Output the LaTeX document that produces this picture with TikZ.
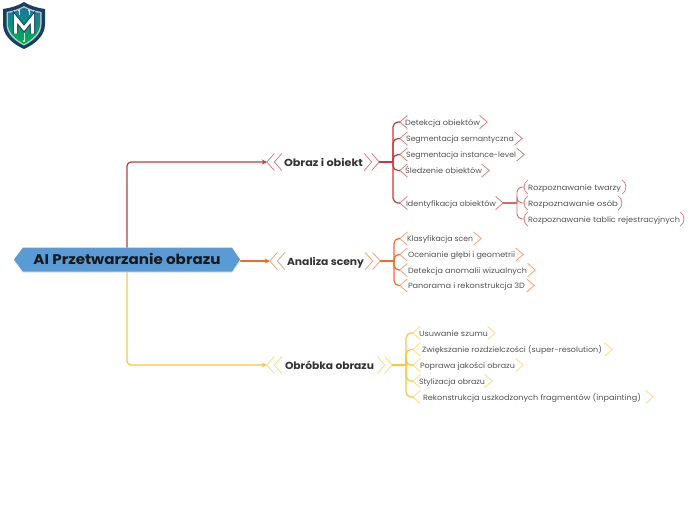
\documentclass[tikz,border=0pt]{standalone}
\usepackage{fontspec}
\usepackage{graphicx}
\setmainfont{Poppins}
\usetikzlibrary{calc,arrows.meta}
\definecolor{cred}{HTML}{C03A3E}
\definecolor{cora}{HTML}{F4692A}
\definecolor{cyel}{HTML}{F9C838}
\definecolor{lred}{HTML}{DC7F80}
\definecolor{lora}{HTML}{F6A27C}
\definecolor{lyel}{HTML}{FBDD85}
\definecolor{navy}{HTML}{173F60}
\definecolor{rootblue}{HTML}{5B9BD5}
\tikzset{
  leaftext/.style={inner sep=0pt,minimum height=12pt,text height=6.8pt,text depth=0.8pt,font=\fontsize{7.6}{9}\selectfont,text=black!68},
  headtext/.style={inner sep=0pt,minimum height=17pt,text height=10pt,text depth=1pt,font=\fontsize{10.2}{12}\bfseries\selectfont,text=black!80},
  roottext/.style={inner sep=0pt,text height=11pt,text depth=1pt,font=\fontsize{14}{16}\bfseries\selectfont,text=black!90},
  chevline/.style={line width=0.8pt,line join=miter},
  branch/.style={line width=1.2pt,rounded corners=5pt},
  stub/.style={line width=2.4pt},
  link/.style={line width=1.2pt,rounded corners=4pt,-{Stealth[length=5pt,width=5pt]}}
}
% name, xL, xR, y, textL, textR, text
\newcommand\labelbox[7]{%
  \pgfmathsetlengthmacro\boxw{(#3-#2)*1pt}%
  \pgfmathsetlengthmacro\boxa{(#5-#2)*1pt}%
  \pgfmathsetlengthmacro\boxb{(#6-#5)*1pt}%
  \makebox[\boxw][l]{\hspace*{\boxa}\resizebox{\boxb}{\height}{#7}}}
\newcommand\leaf[8]{%
  \node[leaftext] (#1) at ({(#2+#3)/2},#4) {\labelbox{#1}{#2}{#3}{#4}{#5}{#6}{#7}};
  \draw[chevline,#8] ($(#1.west)+(7.5,6.5)$) -- (#1.west) -- ($(#1.west)+(7.5,-6.5)$);
  \draw[chevline,#8] ($(#1.east)+(-7.5,6.5)$) -- (#1.east) -- ($(#1.east)+(-7.5,-6.5)$);
}
\newcommand\paren[7]{%
  \node[leaftext] (#1) at ({(#2+#3)/2},#4) {\labelbox{#1}{#2}{#3}{#4}{#5}{#6}{#7}};
  \draw[chevline,lred] ($(#1.west)+(4,7)$) .. controls ($(#1.west)+(-1,4)$) and ($(#1.west)+(-1,-4)$) .. ($(#1.west)+(4,-7)$);
  \draw[chevline,lred] ($(#1.east)+(-4,7)$) .. controls ($(#1.east)+(1,4)$) and ($(#1.east)+(1,-4)$) .. ($(#1.east)+(-4,-7)$);
}
\newcommand\topic[8]{%
  \node[headtext] (#1) at ({(#2+#3)/2},#4) {\labelbox{#1}{#2}{#3}{#4}{#5}{#6}{#7}};
  \foreach \off in {0,7.5}{
    \draw[chevline,#8] ($(#1.west)+(\off+7.5,8.5)$) -- ($(#1.west)+(\off,0)$) -- ($(#1.west)+(\off+7.5,-8.5)$);
    \draw[chevline,#8] ($(#1.east)+(-\off-7.5,8.5)$) -- ($(#1.east)+(-\off,0)$) -- ($(#1.east)+(-\off-7.5,-8.5)$);
  }
}
\begin{document}
\begin{tikzpicture}[x=1pt,y=-1pt]
\useasboundingbox (0,0) rectangle (697,520);
% logo
\fill[navy] (24,2) .. controls (18,6) and (10,8) .. (3,9) -- (3,24) .. controls (3,36) and (13,44) .. (24,49) .. controls (35,44) and (45,36) .. (45,24) -- (45,9) .. controls (38,8) and (30,6) .. (24,2) -- cycle;
\fill[white!70!navy] (24,6) .. controls (18,9.5) and (12,11) .. (6.5,12) -- (6.5,24) .. controls (6.5,34) and (15,41) .. (24,45.5) .. controls (33,41) and (41.5,34) .. (41.5,24) -- (41.5,12) .. controls (36,11) and (30,9.5) .. (24,6) -- cycle;
\shade[top color=teal!80!blue!90!white,bottom color=green!40!teal] (24,7.5) .. controls (18,11) and (13,12.3) .. (8,13) -- (8,24) .. controls (8,33) and (16,39.5) .. (24,44) .. controls (32,39.5) and (40,33) .. (40,24) -- (40,13) .. controls (35,12.3) and (30,11) .. (24,7.5) -- cycle;
\draw[navy,line width=5.2pt,line join=miter] (15.5,33.5) -- (15.5,18) -- (24,28.5) -- (32.5,18) -- (32.5,33.5);
\draw[white,line width=3.2pt,line join=miter] (15.5,33.5) -- (15.5,18) -- (24,28.5) -- (32.5,18) -- (32.5,33.5);
\draw[white!80!teal,line width=0.6pt] (19,10.5) -- (19,15) (29,10.5) -- (29,15) (24,33) -- (24,41);
\fill[white!85!teal] (19,10.5) circle (1.1) (29,10.5) circle (1.1) (24,41) circle (1.1);
% topics and subtopics
\topic{obraz}{267}{379}{162}{284}{363}{Obraz i obiekt}{lred}
\topic{analiza}{270}{380}{261}{287}{364}{Analiza sceny}{lora}
\topic{obrobka}{267}{392}{365}{285}{374}{Obróbka obrazu}{lyel}
\leaf{a1}{400}{487}{122}{405}{480}{Detekcja obiektów}{lred}
\leaf{a2}{400}{522}{138.5}{406}{514}{Segmentacja semantyczna}{lred}
\leaf{a3}{400}{524}{154.5}{406}{516}{Segmentacja instance-level}{lred}
\leaf{a4}{400}{489}{170.5}{405}{482}{Śledzenie obiektów}{lred}
\leaf{a5}{400}{503}{203}{406}{496}{Identyfikacja obiektów}{lred}
\paren{p1}{524}{626}{187}{528}{621}{Rozpoznawanie twarzy}
\paren{p2}{524}{622}{203}{528}{618}{Rozpoznawanie osób}
\paren{p3}{524}{684}{219}{528}{680}{Rozpoznawanie tablic rejestracyjnych}
\leaf{b1}{400}{481}{238.5}{407}{473}{Klasyfikacja scen}{lora}
\leaf{b2}{400}{523}{254.5}{408}{515}{Ocenianie głębi i geometrii}{lora}
\leaf{b3}{400}{535}{270}{408}{527}{Detekcja anomalii wizualnych}{lora}
\leaf{b4}{400}{534}{285.5}{408}{525}{Panorama i rekonstrukcja 3D}{lora}
\leaf{c1}{413}{495}{333}{419}{488}{Usuwanie szumu}{lyel}
\leaf{c2}{413}{612}{349.5}{422}{602}{Zwiększanie rozdzielczości (super-resolution)}{lyel}
\leaf{c3}{413}{523}{365}{420}{515}{Poprawa jakości obrazu}{lyel}
\leaf{c4}{413}{492}{381}{419}{485}{Stylizacja obrazu}{lyel}
\leaf{c5}{413}{653}{397}{423}{641}{Rekonstrukcja uszkodzonych fragmentów (inpainting)}{lyel}
% root connectors
\coordinate (rootN) at (127,247.5);
\coordinate (rootS) at (127,271.5);
\coordinate (rootE) at (240,259.5);
\draw[link,cred] (rootN) |- (obraz.west);
\draw[link,cora] (rootE |- analiza.west) -- (analiza.west);
\draw[link,cyel] (rootS) |- (obrobka.west);
% root
\fill[black!25,opacity=.5] (14,260.5) -- (23,248.5) -- (232,248.5) -- (241,260.5) -- (232,272.5) -- (23,272.5) -- cycle;
\fill[rootblue] (14,259.5) -- (23,247.5) -- (232,247.5) -- (240,259.5) -- (232,271.5) -- (23,271.5) -- cycle;
\node[roottext] (root) at (127,259.5) {\resizebox{187pt}{\height}{AI Przetwarzanie obrazu}};
% branches
\coordinate (ja) at (393,162);
\coordinate (jb) at (394,261);
\coordinate (jc) at (406,365);
\coordinate (jp) at (517,203);
\foreach \n in {a1,a2,a3,a4,a5}{\draw[branch,cred] (ja) -- (ja |- \n.west) -- (\n.west);}
\foreach \n in {b1,b2,b3,b4}{\draw[branch,cora] (jb) -- (jb |- \n.west) -- (\n.west);}
\foreach \n in {c1,c2,c3,c4,c5}{\draw[branch,cyel] (jc) -- (jc |- \n.west) -- (\n.west);}
\foreach \n in {p1,p2,p3}{\draw[branch,line width=0.9pt,cred!75] (jp) -- (jp |- \n.west) -- (\n.west);}
\draw[stub,cred] (obraz.east) -- (ja);
\draw[stub,cora] (analiza.east) -- (jb);
\draw[stub,cyel] (obrobka.east) -- (jc);
\draw[stub,cred!75] (a5.east) -- (jp);
\end{tikzpicture}
\end{document}
